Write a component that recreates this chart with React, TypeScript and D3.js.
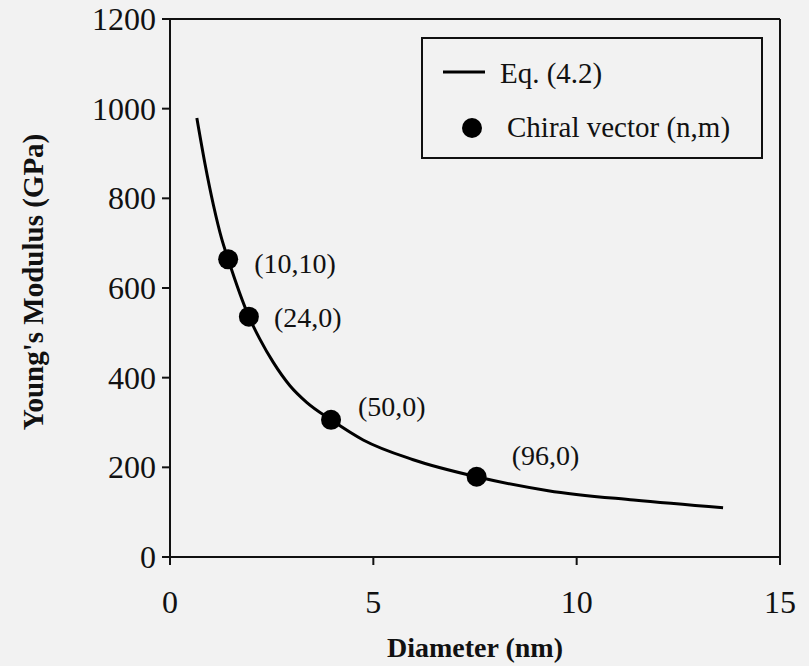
import React from "react";
import * as d3 from "d3";

// Eq. (4.2) curve: diameter (nm) vs Young's modulus (GPa)
const curveDiameter = [0.66, 0.86, 1.07, 1.27, 1.43, 1.94, 2.21, 2.54, 2.95, 3.36, 3.96, 4.75, 5.98, 7.54, 9.3, 11.4, 13.6];
const curveModulus = [979, 877, 784, 710, 664, 536, 486, 434, 382, 345, 306, 261, 217, 179, 148, 127, 110];

// Nanotube chiral vectors
const chiralLabels = ["(10,10)", "(24,0)", "(50,0)", "(96,0)"];
const chiralDiameter = [1.43, 1.94, 3.96, 7.54];
const chiralModulus = [664, 536, 306, 179];

const xTicks = [0, 5, 10, 15];
const yTicks = [0, 200, 400, 600, 800, 1000, 1200];

const W = 809;
const H = 666;
const FONT = "'Liberation Serif', 'Times New Roman', serif";

export default function App() {
  const x = d3.scaleLinear().domain([0, 15]).range([170, 780]);
  const y = d3.scaleLinear().domain([0, 1200]).range([557, 19]);

  const pts = curveDiameter.map((d, i) => [d, curveModulus[i]] as [number, number]);
  const line = d3
    .line<[number, number]>()
    .x((p) => x(p[0]))
    .y((p) => y(p[1]))
    .curve(d3.curveMonotoneX);

  const labelOffsets = [
    { dx: 26, dy: 4 },
    { dx: 25, dy: 1 },
    { dx: 27, dy: -13 },
    { dx: 35, dy: -21 },
  ];

  return (
    <svg
      width={W}
      height={H}
      style={{ position: "absolute", left: 0, top: 0, background: "#f2f2f2" }}
      fontFamily={FONT}
    >
      <rect x={0} y={0} width={W} height={H} fill="#f2f2f2" />

      {/* frame */}
      <g stroke="#111" strokeWidth={2} fill="none">
        <line x1={x(0)} y1={y(0)} x2={x(15)} y2={y(0)} />
        <line x1={x(0)} y1={y(0)} x2={x(0)} y2={y(1200)} />
        <line x1={x(0)} y1={y(1200)} x2={x(15)} y2={y(1200)} />
        <line x1={x(15)} y1={y(0)} x2={x(15)} y2={y(1200)} />
      </g>

      {/* y ticks */}
      {yTicks.map((t) => (
        <g key={"y" + t}>
          <line x1={x(0) - 8} x2={x(0)} y1={y(t)} y2={y(t)} stroke="#111" strokeWidth={2} />
          <text
            x={x(0) - 14}
            y={y(t)}
            textAnchor="end"
            dominantBaseline="central"
            fontSize={32}
            fill="#111"
          >
            {t}
          </text>
        </g>
      ))}

      {/* x ticks */}
      {xTicks.map((t) => (
        <g key={"x" + t}>
          <line x1={x(t)} x2={x(t)} y1={y(0)} y2={y(0) + 8} stroke="#111" strokeWidth={2} />
          <text
            x={x(t)}
            y={602}
            textAnchor="middle"
            dominantBaseline="central"
            fontSize={32}
            fill="#111"
          >
            {t}
          </text>
        </g>
      ))}

      {/* axis titles */}
      <text
        x={475}
        y={657}
        textAnchor="middle"
        fontSize={28}
        fontWeight="bold"
        fill="#111"
      >
        Diameter (nm)
      </text>
      <text
        transform="translate(43,282) rotate(-90)"
        textAnchor="middle"
        fontSize={29}
        fontWeight="bold"
        fill="#111"
      >
        Young's Modulus (GPa)
      </text>

      {/* curve */}
      <path d={line(pts) ?? ""} fill="none" stroke="#000" strokeWidth={3} />

      {/* chiral vector points */}
      {chiralDiameter.map((d, i) => (
        <g key={chiralLabels[i]}>
          <circle cx={x(d)} cy={y(chiralModulus[i])} r={10} fill="#000" />
          <text
            x={x(d) + labelOffsets[i].dx}
            y={y(chiralModulus[i]) + labelOffsets[i].dy}
            dominantBaseline="central"
            fontSize={28}
            fill="#111"
          >
            {chiralLabels[i]}
          </text>
        </g>
      ))}

      {/* legend */}
      <rect x={422} y={38} width={340} height={120} fill="none" stroke="#111" strokeWidth={2} />
      <line x1={443} x2={485} y1={72} y2={72} stroke="#000" strokeWidth={3} />
      <text x={500} y={83} fontSize={29} fill="#111">
        Eq. (4.2)
      </text>
      <circle cx={472} cy={128} r={10} fill="#000" />
      <text x={507} y={137} fontSize={29} fill="#111">
        Chiral vector (n,m)
      </text>
    </svg>
  );
}
